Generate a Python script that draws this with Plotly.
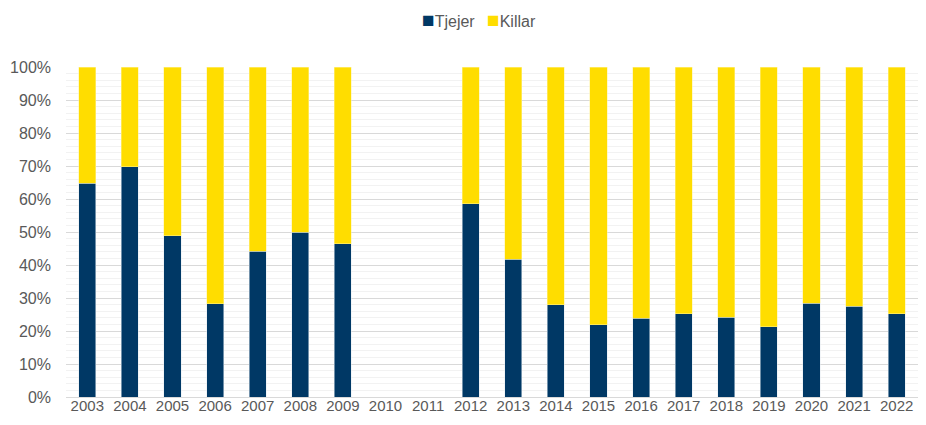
import plotly.graph_objects as go

years = ["2003","2004","2005","2006","2007","2008","2009","2010","2011","2012",
         "2013","2014","2015","2016","2017","2018","2019","2020","2021","2022"]
tjejer = [64.8, 69.7, 48.8, 28.2, 44.2, 50.0, 46.4, None, None, 58.5,
          41.8, 27.9, 21.9, 23.9, 25.3, 24.2, 21.3, 28.4, 27.5, 25.2]
killar = [None if t is None else round(100 - t, 1) for t in tjejer]

navy = "#003865"
yellow = "#FFDD00"
txt = "#595959"

fig = go.Figure()
fig.add_trace(go.Bar(name="Tjejer", x=years, y=tjejer, marker_color=navy,
                     marker_line_width=0.5, marker_line_color="#e6ecf2"))
fig.add_trace(go.Bar(name="Killar", x=years, y=killar, marker_color=yellow,
                     marker_line_width=0.5, marker_line_color="#fff3a0"))

fig.update_layout(
    barmode="stack",
    bargap=0.6,
    width=910, height=409,
    margin=dict(l=57.5, r=0, t=59, b=20, autoexpand=False),
    plot_bgcolor="white", paper_bgcolor="white",
    font=dict(family="Liberation Sans, Arial, sans-serif", size=16, color=txt),
    showlegend=False,
)
fig.add_annotation(xref="paper", yref="paper", x=0.416, y=1.145, xanchor="left",
                   yanchor="middle", showarrow=False,
                   text=f"<span style='color:{navy};font-size:21px'>■</span>Tjejer",
                   font=dict(size=16, color=txt))
fig.add_annotation(xref="paper", yref="paper", x=0.492, y=1.145, xanchor="left",
                   yanchor="middle", showarrow=False,
                   text=f"<span style='color:{yellow};font-size:21px'>■</span>Killar",
                   font=dict(size=16, color=txt))

fig.update_xaxes(type="category", range=[-0.5, 19.5], automargin=False,
                 tickfont=dict(size=15, color=txt),
                 showgrid=False, ticks="", showline=False, ticklabelstandoff=-2)
fig.update_yaxes(range=[0, 100], tickvals=list(range(0, 101, 10)),
                 ticktext=[f"{v}%" for v in range(0, 101, 10)],
                 tickfont=dict(size=16, color=txt), automargin=False,
                 showgrid=True, gridcolor="#d9d9d9", gridwidth=1,
                 minor=dict(dtick=2, showgrid=True, gridcolor="#f2f2f2", gridwidth=1),
                 zeroline=True, zerolinecolor="#d9d9d9", zerolinewidth=1,
                 ticks="", ticklabelstandoff=14)

fig.write_html("out.html")
